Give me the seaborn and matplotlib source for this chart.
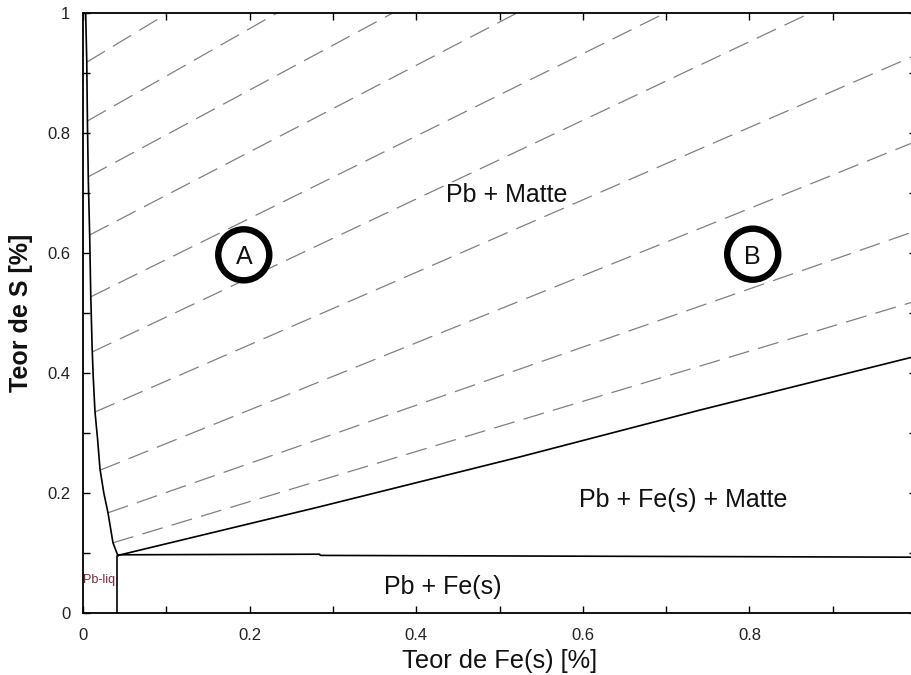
import numpy as np
import pandas as pd
import matplotlib
matplotlib.use("Agg")
import matplotlib.pyplot as plt
from matplotlib.ticker import MultipleLocator
import seaborn as sns

# left boundary (Pb + Matte / Pb-liq)
liq_x = [0.0032, 0.0045, 0.0053, 0.0064, 0.0080, 0.0093, 0.0110, 0.0124, 0.0144, 0.0175, 0.0204, 0.0250, 0.0300, 0.0360, 0.0420]
liq_y = [1.000, 0.920, 0.820, 0.720, 0.630, 0.530, 0.440, 0.390, 0.335, 0.290, 0.240, 0.200, 0.167, 0.117, 0.095]

# vertical line under the junction
fe_x = [0.041, 0.041]
fe_y = [0.095, 0.0]

# horizontal line Pb + Fe(s) / Pb + Fe(s) + Matte
hor_x = [0.042, 0.284, 0.285, 1.0]
hor_y = [0.097, 0.098, 0.096, 0.093]

# upper boundary of Pb + Fe(s) + Matte
up_x = [0.042, 0.284, 0.524, 0.740, 1.0]
up_y = [0.096, 0.177, 0.260, 0.338, 0.428]

# tie lines (dashed): start on left boundary, end on top or right edge
tie_x0 = [0.0045, 0.0053, 0.0063, 0.0080, 0.0094, 0.0110, 0.0144, 0.0205, 0.0300, 0.0360]
tie_y0 = [0.918, 0.820, 0.727, 0.630, 0.527, 0.435, 0.335, 0.238, 0.167, 0.117]
tie_x1 = [0.102, 0.233, 0.372, 0.521, 0.699, 0.873, 1.0, 1.0, 1.0, 1.0]
tie_y1 = [1.0, 1.0, 1.0, 1.0, 1.0, 1.0, 0.930, 0.786, 0.637, 0.520]

# region labels
reg_text = ["Pb + Matte", "Pb + Fe(s) + Matte", "Pb + Fe(s)"]
reg_x = [0.509, 0.720, 0.432]
reg_y = [0.697, 0.188, 0.043]

# circled letters
circ_text = ["A", "B"]
circ_x = [0.193, 0.804]
circ_y = [0.597, 0.598]

xticks = [0, 0.2, 0.4, 0.6, 0.8, 1.0]
xtick_labels = ["0", "0.2", "0.4", "0.6", "0.8", ""]
yticks = [0, 0.2, 0.4, 0.6, 0.8, 1.0]
ytick_labels = ["0", "0.2", "0.4", "0.6", "0.8", "1"]

sns.set_theme(style="white")
plt.rcParams['font.family'] = ['Liberation Sans', 'DejaVu Sans']

fig = plt.figure(figsize=(9.12, 6.75), dpi=100)
ax = fig.add_axes([83 / 912, 62 / 675, 833 / 912, 600 / 675])

# dashed tie lines
ties = pd.DataFrame({
    "x": tie_x0 + tie_x1,
    "y": tie_y0 + tie_y1,
    "id": list(range(len(tie_x0))) * 2,
})
for i, g in ties.groupby("id"):
    sns.lineplot(data=g, x="x", y="y", ax=ax, color="#808080", lw=0.9,
                 ls=(0, (17, 7.5)), sort=False, estimator=None)

# solid boundaries
for xs, ys in [(liq_x, liq_y), (fe_x, fe_y), (hor_x, hor_y), (up_x, up_y)]:
    sns.lineplot(x=xs, y=ys, ax=ax, color="black", lw=1.2, sort=False, estimator=None)

# circled letters
sns.scatterplot(x=circ_x, y=circ_y, ax=ax, s=1350, marker="o",
                facecolor="none", edgecolor="black", linewidth=4.6, zorder=5)
for t, x, y in zip(circ_text, circ_x, circ_y):
    ax.text(x, y - 0.004, t, ha="center", va="center", fontsize=18, color="#111111", zorder=6)

for t, x, y in zip(reg_text, reg_x, reg_y):
    ax.text(x, y, t, ha="center", va="center", fontsize=18, color="#111111")

ax.text(0.0, 0.055, "Pb-liq", ha="left", va="center", fontsize=9, color="#7a2838")

ax.set_xlim(0, 1)
ax.set_ylim(0, 1)
ax.set_xticks(xticks)
ax.set_xticklabels(xtick_labels)
ax.set_yticks(yticks)
ax.set_yticklabels(ytick_labels)
ax.xaxis.set_minor_locator(MultipleLocator(0.1))
ax.yaxis.set_minor_locator(MultipleLocator(0.1))
ax.tick_params(which="both", direction="in", top=True, right=True, bottom=True, left=True,
               length=5, width=1, color="black", labelsize=12, labelcolor="#222222", pad=9)
ax.tick_params(axis="x", pad=11)
for s in ax.spines.values():
    s.set_color("black")
    s.set_linewidth(1.3)

ax.set_xlabel("Teor de Fe(s) [%]", fontsize=18.3, color="#111111", labelpad=4)
ax.set_ylabel("Teor de S [%]", fontsize=18, fontweight="bold", color="#111111", labelpad=10)

fig.savefig("out.png", dpi=100)
